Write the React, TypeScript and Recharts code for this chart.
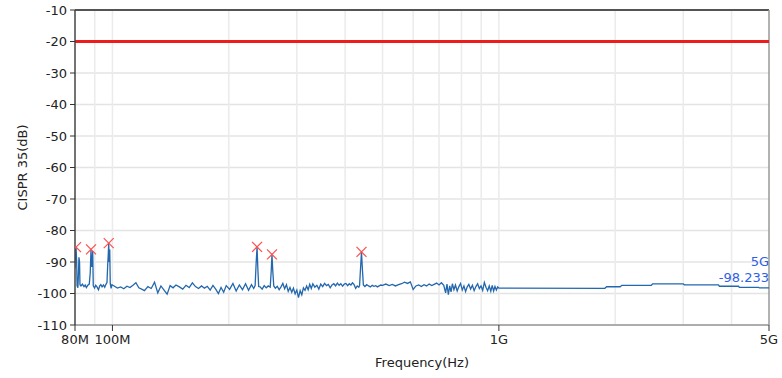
import React from 'react';
import {
  ComposedChart,
  Line,
  Scatter,
  XAxis,
  YAxis,
  CartesianGrid,
  ReferenceLine,
  Label,
} from 'recharts';

// frequency in MHz, level in dB
const lowBand = [
  [80.0, -92], [80.2, -86], [80.5, -85.3], [80.8, -90], [81.0, -97.6], [81.4, -98.2],
  [81.7, -93], [81.9, -88.5], [82.2, -90], [82.4, -97.2], [82.9, -97.6], [83.6, -97.0],
  [84.4, -97.8], [85.0, -97.3], [85.6, -98.1], [86.3, -97.4], [87.1, -97.0], [87.6, -93.5],
  [88.0, -86], [88.3, -91.5], [88.6, -91], [88.9, -86.5], [89.2, -97.6], [89.9, -98.3],
  [90.5, -97.4], [91.2, -97.9], [92.0, -98.8], [92.7, -97.6], [93.3, -97.2], [94.0, -97.9],
  [94.8, -97.3], [95.5, -98.0], [96.2, -97.1], [96.8, -96.5], [97.2, -91], [97.5, -88],
  [97.8, -84], [98.1, -90], [98.4, -86], [98.7, -96.8], [99.2, -98.4], [99.7, -97.2],
];

const midBand = [
  [101, -97.6], [103, -98.3], [105, -97.9], [107, -98.5], [109, -97.7], [111, -98.1],
  [113, -97.4], [115, -96.6], [117, -98.2], [119, -98.6], [121, -99.1], [123.5, -97.8],
  [126, -98.4], [128.5, -96.4], [131, -99.8], [133.5, -97.6], [136, -98.9], [138.5, -100.2],
  [141, -97.5], [143.5, -98.2], [146, -97.3], [149, -97.9], [152, -98.6], [155, -97.4],
  [158, -98.1], [161, -96.6], [164, -97.8], [167, -98.4], [170, -97.6], [173, -98.3],
  [176, -97.7], [179, -98.9], [182, -97.4], [185, -98.6], [188, -100.0], [191, -98.1],
  [194, -99.6], [197, -97.5], [201, -98.7], [205, -96.8], [209, -99.2], [213, -97.3],
  [217, -98.8], [221, -96.9], [225, -99.0], [229, -97.2], [232, -98.4], [234, -97.5],
  [235.5, -90], [236.7, -85.2], [237.8, -92], [239, -97.8], [241, -97.9], [244, -98.6],
  [247, -97.5], [250, -98.2], [253, -97.6], [256, -98], [257.5, -93], [258.7, -87.6],
  [260, -93], [261.5, -97.6], [264, -98.3], [267, -97.7], [270, -98.8], [273, -97.9],
  [276, -96.8], [279, -98.5], [282, -97.2], [285, -99.3], [288, -98.1], [291, -99.6],
  [294, -98.3], [297, -100.1], [300, -98.9], [303, -101.3], [306, -99.1], [309, -100.4],
  [312, -98.2], [315, -99.0], [318, -97.6], [321, -98.8], [324, -97.1], [327, -98.4],
  [330, -96.9], [334, -98.0], [338, -97.4], [342, -98.6], [346, -97.0], [350, -97.8],
  [354, -96.8], [358, -97.5], [362, -97.1], [366, -98.2], [370, -97.3], [374, -96.9],
  [378, -97.6], [382, -96.7], [386, -97.4], [390, -96.9], [394, -97.7], [398, -97.0],
  [402, -96.8], [406, -97.5], [410, -96.9], [414, -97.3], [418, -96.6], [422, -97.2],
  [426, -98.4], [430, -97.6], [434, -98.0], [436, -97.5], [438.5, -92], [441, -86.8],
  [443.5, -92.5], [446, -97.3], [450, -97.8], [455, -97.2], [460, -97.6], [465, -97.9],
  [470, -97.4], [475, -97.7], [480, -97.5], [485, -97.9], [490, -97.6], [495, -97.3],
];

const highBand = [
  [500, -97.4], [510, -97.0], [520, -97.5], [530, -97.1], [540, -97.6], [550, -97.2],
  [560, -96.9], [570, -96.4], [580, -96.8], [590, -96.3], [600, -98.7], [610, -97.6],
  [620, -97.3], [630, -97.8], [640, -97.2], [650, -97.6], [660, -97.0], [670, -97.5],
  [680, -97.1], [690, -96.7], [700, -97.3], [710, -96.6], [720, -97.4], [728, -99.8],
  [734, -97.0], [740, -100.4], [746, -97.6], [752, -99.5], [758, -96.9], [765, -98.8],
  [772, -97.3], [780, -99.2], [788, -97.8], [796, -96.8], [804, -98.9], [812, -97.6],
  [820, -99.4], [828, -97.9], [836, -97.1], [845, -98.6], [854, -97.4], [863, -99.1],
  [872, -97.8], [881, -96.9], [890, -98.4], [899, -97.6], [908, -99.0], [917, -96.5],
  [926, -98.0], [935, -99.1], [944, -97.6], [953, -99.3], [961, -97.4], [969, -99.2],
  [977, -97.8], [985, -98.9], [993, -97.9], [1000, -98.3],
];

const tailBand = [
  [1880, -98.35], [1900, -97.85], [2060, -97.85], [2080, -97.4], [2480, -97.4],
  [2500, -96.95], [3000, -96.95], [3020, -97.25], [3700, -97.25], [3720, -97.7],
  [4170, -97.7], [4190, -98.05], [4700, -98.05], [4720, -98.233], [5000, -98.233],
];

const peaks = [
  [80.5, -85.3], [88.0, -86], [97.8, -84], [236.7, -85.2], [258.7, -87.6], [441, -86.8],
];

const limitDb = -20;
const xTicks = [80, 100, 1000, 5000];
const xTickLabels = ['80M', '100M', '1G', '5G'];
const yTicks = [-10, -20, -30, -40, -50, -60, -70, -80, -90, -100, -110];
const gridFreqs = [90, 100, 200, 300, 400, 500, 600, 700, 800, 900, 1000, 2000, 3000, 4000];

const noise = [...lowBand, ...midBand, ...highBand, ...tailBand].map(([f, db]) => ({ f, db }));
const peakData = peaks.map(([f, db]) => ({ f, db }));

const FONT = 'DejaVu Sans';

const CrossMark = (props: any) => {
  const { cx, cy } = props;
  const s = 5;
  return (
    <g stroke="#ff4d4d" strokeWidth={1.2}>
      <line x1={cx - s} y1={cy - s} x2={cx + s} y2={cy + s} />
      <line x1={cx - s} y1={cy + s} x2={cx + s} y2={cy - s} />
    </g>
  );
};

const EndLabel = (props: any) => {
  const { x, y, index } = props;
  if (index !== noise.length - 1) return null;
  return (
    <g fontFamily={FONT} fontSize={13} fill="#2f5fe6" textAnchor="end">
      <text x={x} y={y - 26} dominantBaseline="central">5G</text>
      <text x={x} y={y - 10} dominantBaseline="central">{String(noise[index].db)}</text>
    </g>
  );
};

export default function App() {
  return (
    <div style={{ position: 'absolute', left: 0, top: 0 }}>
      <ComposedChart
        width={782}
        height={378}
        margin={{ top: 10, right: 13, left: 0, bottom: 0 }}
        style={{ fontFamily: FONT }}
      >
        <CartesianGrid vertical={false} stroke="#e4e4e4" strokeWidth={1.5} />
        {gridFreqs.map((g) => (
          <ReferenceLine key={g} x={g} stroke="#ebebeb" strokeWidth={1.5} />
        ))}
        <ReferenceLine y={-10} stroke="#222" strokeWidth={1.5} />
        <ReferenceLine x={5000} stroke="#999" strokeWidth={1.5} />
        <XAxis
          dataKey="f"
          type="number"
          scale="log"
          domain={[80, 5000]}
          allowDataOverflow
          ticks={xTicks}
          interval={0}
          tickFormatter={(v: number) => xTickLabels[xTicks.indexOf(v)]}
          height={53}
          tickSize={6}
          tickMargin={4}
          axisLine={{ stroke: '#999', strokeWidth: 1.5 }}
          tickLine={{ stroke: '#333' }}
          tick={{ fill: '#222', fontSize: 13, fontFamily: FONT }}
        >
          <Label
            content={({ viewBox }: any) => (
              <text
                x={viewBox.x + viewBox.width / 2}
                y={362}
                textAnchor="middle"
                dominantBaseline="central"
                fontFamily={FONT}
                fontSize={13}
                fill="#222"
              >
                Frequency(Hz)
              </text>
            )}
          />
        </XAxis>
        <YAxis
          type="number"
          domain={[-110, -10]}
          ticks={yTicks}
          interval={0}
          allowDataOverflow
          width={75}
          tickSize={5}
          tickMargin={3}
          axisLine={{ stroke: '#444', strokeWidth: 1.5 }}
          tickLine={{ stroke: '#333' }}
          tick={{ fill: '#222', fontSize: 13, fontFamily: FONT }}
        >
          <Label
            content={({ viewBox }: any) => {
              const cy = viewBox.y + viewBox.height / 2;
              return (
                <text
                  x={22}
                  y={cy}
                  transform={`rotate(-90, 22, ${cy})`}
                  textAnchor="middle"
                  dominantBaseline="central"
                  fontFamily={FONT}
                  fontSize={13}
                  fill="#222"
                >
                  CISPR 35(dB)
                </text>
              );
            }}
          />
        </YAxis>
        <ReferenceLine y={limitDb} stroke="#ee1c1c" strokeWidth={3} />
        <Line
          data={noise}
          dataKey="db"
          type="linear"
          stroke="#2367ad"
          strokeWidth={1.3}
          dot={false}
          activeDot={false}
          isAnimationActive={false}
          label={<EndLabel />}
        />
        <Scatter
          data={peakData}
          dataKey="db"
          shape={<CrossMark />}
          isAnimationActive={false}
        />
      </ComposedChart>
    </div>
  );
}
